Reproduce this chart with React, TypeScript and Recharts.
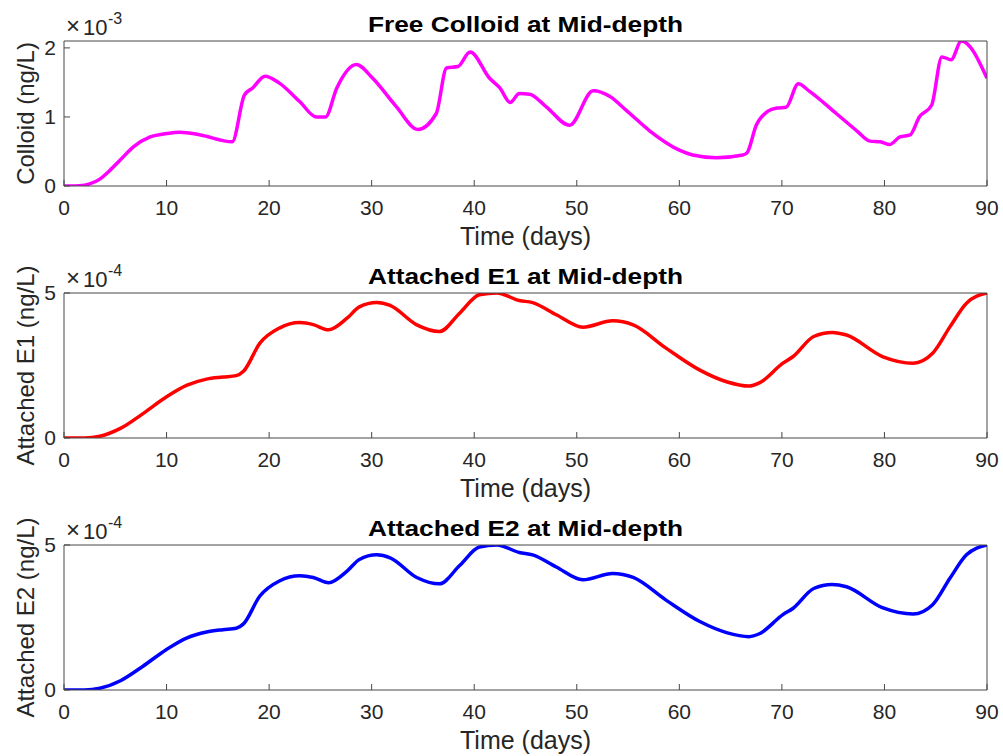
import React from 'react';
import { LineChart, Line, XAxis, YAxis } from 'recharts';

// time axis (days)
const timeTicks = [0, 10, 20, 30, 40, 50, 60, 70, 80, 90];

// Free colloid at mid-depth, x10^-3 ng/L
const colloidTime = [
  0, 1, 2, 2.5, 3.5, 4.5, 5.5, 6.8, 8.4, 10, 11.3, 13.3, 16.4, 17.6, 18.4, 19.6, 21, 23, 24.6,
  25.5, 26.6, 28.5, 30.1, 32.4, 34.5, 36.3, 37.3, 38.4, 39.6, 41.5, 42.5, 43.5, 44.4, 45.4, 47,
  49.3, 51.6, 53.2, 54.8, 57.1, 60, 61.3, 63.6, 66.2, 66.6, 67.5, 68.6, 69.5, 70.4, 71.6, 72.7,
  75.3, 77.3, 78.6, 79.6, 80.5, 81.5, 82.5, 83.4, 84.6, 85.6, 86.5, 87.5, 90,
];
const colloidValues = [
  0, 0, 0.01, 0.03, 0.1, 0.23, 0.38, 0.57, 0.71, 0.76, 0.78, 0.74, 0.64, 1.32, 1.42, 1.59, 1.49,
  1.22, 1.0, 1.0, 1.42, 1.76, 1.56, 1.15, 0.82, 1.05, 1.71, 1.73, 1.94, 1.56, 1.42, 1.21, 1.34,
  1.33, 1.15, 0.88, 1.38, 1.3, 1.1, 0.8, 0.52, 0.45, 0.41, 0.45, 0.48, 0.88, 1.08, 1.13, 1.14,
  1.48, 1.37, 1.05, 0.8, 0.65, 0.64, 0.6, 0.71, 0.74, 1.0, 1.17, 1.87, 1.83, 2.1, 1.56,
];

// Attached E1 at mid-depth, x10^-4 ng/L
const e1Time = [
  0, 2, 3.5, 5.5, 7.7, 10, 12, 13.9, 15.5, 16.8, 17.5, 19.1, 21, 23, 24.3, 25.8, 27.6, 28.8, 30.5,
  31.8, 34.4, 36.6, 38.6, 40.5, 42.2, 44.4, 45.7, 48, 50.6, 53.5, 55.5, 58.7, 62, 64.6, 66.8, 67.8,
  70.1, 71.1, 73.1, 74.9, 76.3, 79.8, 82.8, 84.7, 86.4, 88, 90,
];
const e1Values = [
  0, 0, 0.06, 0.33, 0.84, 1.42, 1.82, 2.03, 2.1, 2.15, 2.3, 3.27, 3.79, 3.98, 3.91, 3.73, 4.13,
  4.52, 4.67, 4.57, 3.9, 3.67, 4.31, 4.94, 5.0, 4.74, 4.67, 4.25, 3.82, 4.04, 3.9, 3.1, 2.34, 1.94,
  1.79, 1.9, 2.58, 2.81, 3.5, 3.64, 3.55, 2.81, 2.58, 2.92, 3.84, 4.65, 5.0,
];

// Attached E2 at mid-depth, x10^-4 ng/L
const e2Time = [
  0, 2, 3.5, 5.5, 7.7, 10, 12, 13.9, 15.5, 16.8, 17.5, 19.1, 21, 23, 24.3, 25.8, 27.6, 28.8, 30.5,
  31.8, 34.4, 36.6, 38.6, 40.5, 42.2, 44.4, 45.7, 48, 50.6, 53.5, 55.5, 58.7, 62, 64.6, 66.8, 67.8,
  70.1, 71.1, 73.1, 74.9, 76.3, 79.8, 82.8, 84.7, 86.4, 88, 90,
];
const e2Values = [
  0, 0, 0.06, 0.32, 0.82, 1.4, 1.8, 2.0, 2.08, 2.13, 2.28, 3.24, 3.76, 3.94, 3.88, 3.7, 4.1, 4.5,
  4.66, 4.56, 3.88, 3.66, 4.3, 4.93, 5.0, 4.74, 4.66, 4.24, 3.8, 4.02, 3.88, 3.1, 2.36, 1.98, 1.84,
  1.94, 2.6, 2.82, 3.5, 3.64, 3.56, 2.84, 2.62, 2.94, 3.86, 4.66, 5.0,
];

const FONT = '"Liberation Sans", Arial, Helvetica, sans-serif';
const INK = '#262626';
const BOX = '#474747';

type PanelProps = {
  time: number[];
  values: number[];
  color: string;
  title: string;
  yLabel: string;
  exponent: string;
  yMax: number;
  yTicks: number[];
  height: number;
  marginTop: number;
};

function Panel({ time, values, color, title, yLabel, exponent, yMax, yTicks, height, marginTop }: PanelProps) {
  const data = time.map((t, i) => ({ t, v: values[i] }));

  // title sits above the top frame, exponent marker at its left end
  const renderTitle = (props: any) => {
    const vb = props.viewBox;
    return (
      <g>
        <text
          x={vb.x + vb.width / 2}
          y={vb.y - 8}
          textAnchor="middle"
          fontFamily={FONT}
          fontWeight="bold"
          fontSize={22}
          fill="#000"
          textLength={315}
          lengthAdjust="spacingAndGlyphs"
        >
          {title}
        </text>
        <text x={vb.x + 2} y={vb.y - 6} fontFamily={FONT} fontSize={24} fill={INK}>
          ×
        </text>
        <text x={vb.x + 19} y={vb.y - 5} fontFamily={FONT} fontSize={22} fill={INK}>
          10
        </text>
        <text x={vb.x + 44} y={vb.y - 16} fontFamily={FONT} fontSize={16} fill={INK}>
          {exponent}
        </text>
      </g>
    );
  };

  const renderTimeLabel = (props: any) => {
    const vb = props.viewBox;
    return (
      <text x={vb.x + vb.width / 2} y={vb.y + 59} textAnchor="middle" fontFamily={FONT} fontSize={25} fill={INK}>
        Time (days)
      </text>
    );
  };

  const renderYLabel = (props: any) => {
    const vb = props.viewBox;
    const cy = vb.y + vb.height / 2;
    return (
      <text
        transform={`translate(34, ${cy}) rotate(-90)`}
        textAnchor="middle"
        fontFamily={FONT}
        fontSize={24}
        fill={INK}
      >
        {yLabel}
      </text>
    );
  };

  return (
    <LineChart width={1003} height={height} data={data} margin={{ top: marginTop, right: 15, bottom: 0, left: 0 }}>
      <XAxis
        xAxisId="bottom"
        dataKey="t"
        type="number"
        domain={[0, 90]}
        ticks={timeTicks}
        interval={0}
        allowDataOverflow
        height={64}
        tickSize={-6}
        tickMargin={20}
        stroke={BOX}
        tick={{ fill: INK, fontSize: 21, fontFamily: FONT }}
        label={renderTimeLabel}
      />
      <XAxis
        xAxisId="top"
        orientation="top"
        dataKey="t"
        type="number"
        domain={[0, 90]}
        ticks={timeTicks}
        interval={0}
        allowDataOverflow
        height={1}
        tickSize={-6}
        tick={false}
        stroke={BOX}
        label={renderTitle}
      />
      <YAxis
        yAxisId="left"
        dataKey="v"
        type="number"
        domain={[0, yMax]}
        ticks={yTicks}
        interval={0}
        allowDataOverflow
        width={64}
        tickSize={-6}
        tickMargin={14}
        stroke={BOX}
        tick={{ fill: INK, fontSize: 21, fontFamily: FONT }}
        label={renderYLabel}
      />
      <YAxis
        yAxisId="right"
        orientation="right"
        dataKey="v"
        type="number"
        domain={[0, yMax]}
        ticks={yTicks}
        interval={0}
        allowDataOverflow
        width={1}
        tickSize={-6}
        tick={false}
        stroke={BOX}
      />
      <Line
        xAxisId="bottom"
        yAxisId="left"
        dataKey="v"
        type="monotone"
        stroke={color}
        strokeWidth={3.5}
        dot={false}
        isAnimationActive={false}
      />
    </LineChart>
  );
}

export default function App() {
  return (
    <div style={{ position: 'absolute', left: 0, top: 0, width: 1003, height: 756, background: '#fff' }}>
      <div style={{ position: 'absolute', left: 0, top: 0 }}>
        <Panel
          time={colloidTime}
          values={colloidValues}
          color="#ff00ff"
          title="Free Colloid at Mid-depth"
          yLabel="Colloid (ng/L)"
          exponent="-3"
          yMax={2.1}
          yTicks={[0, 1, 2]}
          height={250}
          marginTop={40}
        />
      </div>
      <div style={{ position: 'absolute', left: 0, top: 250 }}>
        <Panel
          time={e1Time}
          values={e1Values}
          color="#ff0000"
          title="Attached E1 at Mid-depth"
          yLabel="Attached E1 (ng/L)"
          exponent="-4"
          yMax={5}
          yTicks={[0, 5]}
          height={252}
          marginTop={42}
        />
      </div>
      <div style={{ position: 'absolute', left: 0, top: 502 }}>
        <Panel
          time={e2Time}
          values={e2Values}
          color="#0000ff"
          title="Attached E2 at Mid-depth"
          yLabel="Attached E2 (ng/L)"
          exponent="-4"
          yMax={5}
          yTicks={[0, 5]}
          height={252}
          marginTop={42}
        />
      </div>
    </div>
  );
}
